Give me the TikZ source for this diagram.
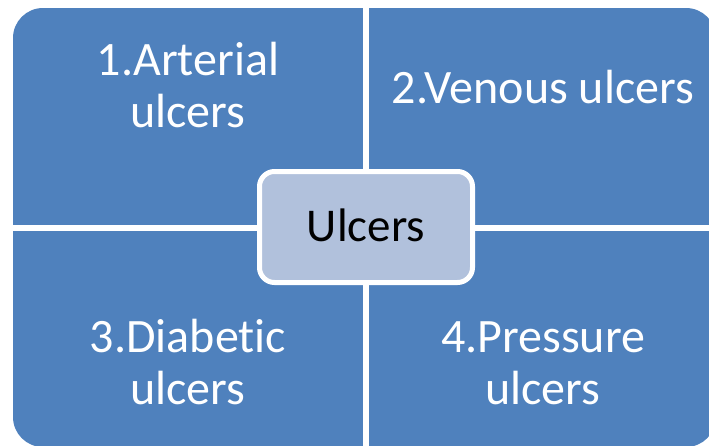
\documentclass[tikz,border=0pt]{standalone}
\usepackage{fontspec}
\setmainfont[Ligatures=NoCommon]{Carlito}
\definecolor{quadblue}{HTML}{4F81BD}
\definecolor{hubblue}{HTML}{B1C1DC}
\begin{document}
\begin{tikzpicture}[x=1pt, y=-1pt,
    quad/.style={fill=quadblue},
    gap/.style={draw=white, line width=6pt},
    label/.style={text=white, align=center, anchor=base, inner sep=0pt,
      font=\fontsize{48}{52}\selectfont},
    hub/.style={fill=hubblue, draw=white, line width=5pt, rounded corners=15pt,
      minimum width=213pt, minimum height=111pt, inner sep=0pt,
      font=\fontsize{47}{52}\selectfont}]
  \useasboundingbox (0,0) rectangle (709,445);

  % Matrix background
  \fill[quad, rounded corners=30pt] (13,8) rectangle (716,447);
  \draw[gap] (366,0) -- (366,450);
  \draw[gap] (0,227.5) -- (720,227.5);

  % Quadrant labels
  \node[label] (arterial) at (188,127) {1.Arterial\\ulcers};
  \node[label] (venous) at (543,103) {2.Venous ulcers};
  \node[label] (diabetic) at (188,404) {3.Diabetic\\ulcers};
  \node[label] (pressure) at (543,404) {4.Pressure\\ulcers};

  % Centre
  \node[hub] (ulcers) at (366,227) {\raisebox{3pt}{Ulcers}};
\end{tikzpicture}
\end{document}
